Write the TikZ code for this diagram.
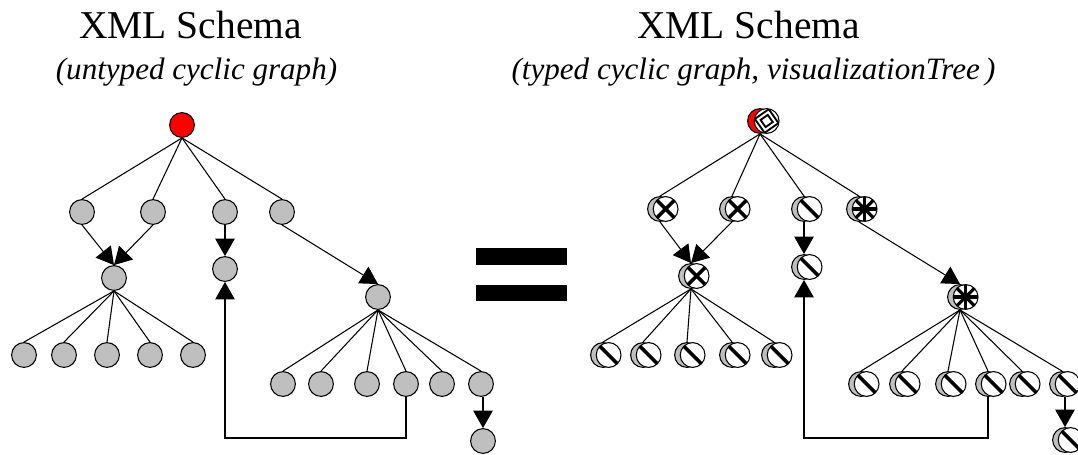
\documentclass[tikz,border=0pt]{standalone}
\usepackage{fontspec}
\setmainfont{Liberation Serif}
\usetikzlibrary{arrows.meta}

\tikzset{
  plainnode/.style={circle,draw,line width=0.8pt,fill=black!25,minimum size=18.6pt,inner sep=0pt},
  rootnode/.style={plainnode,fill=red},
  marknode/.style={circle,draw,line width=0.8pt,fill=white,minimum size=18.6pt,inner sep=0pt},
  slashmark/.style={marknode,path picture={
    \draw[line width=2.6pt] (path picture bounding box.north west) -- (path picture bounding box.south east);}},
  crossmark/.style={marknode,path picture={
    \draw[line width=2.6pt] (path picture bounding box.north west) -- (path picture bounding box.south east);
    \draw[line width=2.6pt] (path picture bounding box.north east) -- (path picture bounding box.south west);}},
  starmark/.style={marknode,path picture={
    \draw[line width=2.3pt] (path picture bounding box.north west) -- (path picture bounding box.south east);
    \draw[line width=2.3pt] (path picture bounding box.north east) -- (path picture bounding box.south west);
    \draw[line width=2.3pt] (path picture bounding box.north) -- (path picture bounding box.south);
    \draw[line width=2.3pt] (path picture bounding box.east) -- (path picture bounding box.west);}},
  squaremark/.style={marknode,path picture={
    \draw[line width=1.4pt]
      ([shift={(10:12)}]path picture bounding box.center) -- ([shift={(100:12)}]path picture bounding box.center) --
      ([shift={(190:12)}]path picture bounding box.center) -- ([shift={(280:12)}]path picture bounding box.center) -- cycle;
    \draw[line width=1.4pt]
      ([shift={(10:6.2)}]path picture bounding box.center) -- ([shift={(100:6.2)}]path picture bounding box.center) --
      ([shift={(190:6.2)}]path picture bounding box.center) -- ([shift={(280:6.2)}]path picture bounding box.center) -- cycle;}},
  edgeline/.style={line width=0.8pt},
  arrowline/.style={line width=0.8pt,-{Triangle[length=13pt,width=14.5pt]}},
  titletext/.style={font=\fontsize{29.6}{34}\selectfont,inner sep=0pt,anchor=base},
  subtext/.style={font=\fontsize{23.3}{28}\selectfont\itshape,inner sep=0pt,anchor=base},
  equalbar/.style={fill=black,minimum width=68pt,minimum height=12.4pt,inner sep=0pt},
}

% grey node with its white mark shifted to the right
\newcommand{\typednode}[3]{
  \node[plainnode] (#1) at (#2) {};
  \node[#3] (#1m) at ([xshift=4.2pt]#1.center) {};
}

\begin{document}
\begin{tikzpicture}[x=0.75pt,y=-0.75pt]
  \clip (0,0) rectangle (1078,454);

  % left tree
  \node[titletext] (lefttitle) at (190.5,38.5) {XML Schema};
  \node[subtext] (leftsub) at (196.5,79) {(untyped cyclic graph)};

  \node[rootnode] (lroot) at (182,125) {};

  \node[plainnode] (la) at (82,212) {};
  \node[plainnode] (lb) at (153,212) {};
  \node[plainnode] (lc) at (225,212) {};
  \node[plainnode] (ld) at (282,212) {};

  \node[plainnode] (le) at (114,278) {};
  \node[plainnode] (lf) at (225,269) {};
  \node[plainnode] (lg) at (378,297) {};

  \node[plainnode] (lh1) at (24,355) {};
  \node[plainnode] (lh2) at (64,355) {};
  \node[plainnode] (lh3) at (107,355) {};
  \node[plainnode] (lh4) at (150,355) {};
  \node[plainnode] (lh5) at (193,355) {};

  \node[plainnode] (lk1) at (283,384) {};
  \node[plainnode] (lk2) at (321,384) {};
  \node[plainnode] (lk3) at (367,384) {};
  \node[plainnode] (lk4) at (406,384) {};
  \node[plainnode] (lk5) at (442,384) {};
  \node[plainnode] (lk6) at (481,384) {};
  \node[plainnode] (lm) at (483,441) {};

  \coordinate (lcorner) at (225,438);

  \draw[edgeline] (lroot.south) -- (la.north);
  \draw[edgeline] (lroot.south) -- (lb.north);
  \draw[edgeline] (lroot.south) -- (lc.north);
  \draw[edgeline] (lroot.south) -- (ld.north);
  \draw[arrowline] (la.south) -- (le.north);
  \draw[arrowline] (lb.south) -- (le.north);
  \draw[arrowline] (lc.south) -- (lf.north);
  \draw[arrowline] (ld.south) -- (lg.north);
  \draw[edgeline] (le.south) -- (lh1.north);
  \draw[edgeline] (le.south) -- (lh2.north);
  \draw[edgeline] (le.south) -- (lh3.north);
  \draw[edgeline] (le.south) -- (lh4.north);
  \draw[edgeline] (le.south) -- (lh5.north);
  \draw[edgeline] (lg.south) -- (lk1.north);
  \draw[edgeline] (lg.south) -- (lk2.north);
  \draw[edgeline] (lg.south) -- (lk3.north);
  \draw[edgeline] (lg.south) -- (lk4.north);
  \draw[edgeline] (lg.south) -- (lk5.north);
  \draw[edgeline] (lg.south) -- (lk6.north);
  \draw[arrowline] (lm.north |- lk6.south) -- (lm.north);
  \draw[arrowline] (lk4.south) |- (lcorner) -- (lf.south);

  % equals sign
  \node[equalbar] (bartop) at (521.5,256.5) {};
  \node[equalbar] (barbottom) at (521.5,293) {};

  % right tree
  \node[titletext] (righttitle) at (748.5,38.5) {XML Schema};
  \node[subtext] (rightsub) at (753.5,79) {(typed cyclic graph, visualizationTree\,)};

  \node[rootnode] (rroot) at (760,121) {};
  \node[squaremark] (rrootm) at ([xshift=5pt]rroot.center) {};

  \typednode{ra}{660,209}{crossmark}
  \typednode{rb}{732,209}{crossmark}
  \typednode{rc}{804,209}{slashmark}
  \typednode{rd}{859,209}{starmark}

  \typednode{re}{691,276}{crossmark}
  \typednode{rf}{804,267}{slashmark}
  \typednode{rg}{960,297}{starmark}

  \typednode{rh1}{603,355}{slashmark}
  \typednode{rh2}{643,355}{slashmark}
  \typednode{rh3}{687,355}{slashmark}
  \typednode{rh4}{732,355}{slashmark}
  \typednode{rh5}{774,355}{slashmark}

  \typednode{rk1}{861,384}{slashmark}
  \typednode{rk2}{902,384}{slashmark}
  \typednode{rk3}{948,384}{slashmark}
  \typednode{rk4}{988,384}{slashmark}
  \typednode{rk5}{1022,384}{slashmark}
  \typednode{rk6}{1062,384}{slashmark}
  \typednode{rm}{1065,440}{slashmark}

  \coordinate (rcorner) at (804,438);

  \draw[edgeline] (rroot.south) -- (ra.north);
  \draw[edgeline] (rroot.south) -- (rb.north);
  \draw[edgeline] (rroot.south) -- (rc.north);
  \draw[edgeline] (rroot.south) -- (rd.north);
  \draw[arrowline] (ra.south) -- (re.north);
  \draw[arrowline] (rb.south) -- (re.north);
  \draw[arrowline] (rc.south) -- (rf.north);
  \draw[arrowline] (rd.south) -- (rg.north);
  \draw[edgeline] (re.south) -- (rh1.north);
  \draw[edgeline] (re.south) -- (rh2.north);
  \draw[edgeline] (re.south) -- (rh3.north);
  \draw[edgeline] (re.south) -- (rh4.north);
  \draw[edgeline] (re.south) -- (rh5.north);
  \draw[edgeline] (rg.south) -- (rk1.north);
  \draw[edgeline] (rg.south) -- (rk2.north);
  \draw[edgeline] (rg.south) -- (rk3.north);
  \draw[edgeline] (rg.south) -- (rk4.north);
  \draw[edgeline] (rg.south) -- (rk5.north);
  \draw[edgeline] (rg.south) -- (rk6.north);
  \draw[arrowline] (rm.north |- rk6.south) -- (rm.north);
  \draw[arrowline] (rk4.south) |- (rcorner) -- (rf.south);
\end{tikzpicture}
\end{document}
